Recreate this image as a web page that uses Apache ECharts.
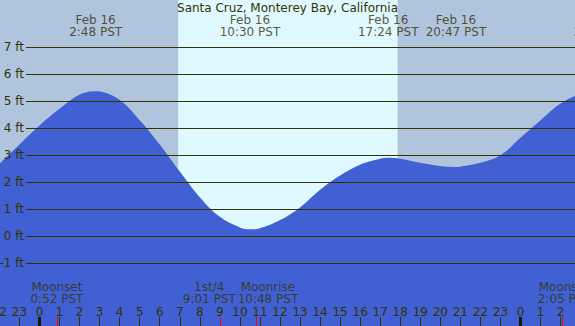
<!DOCTYPE html>
<html>
<head>
<meta charset="utf-8">
<script src="https://cdn.jsdelivr.net/npm/echarts@6/dist/echarts.min.js"></script>
<style>
  html, body { margin: 0; padding: 0; }
</style>
</head>
<body>
<div id="main" style="width: 575px;height:326px;"></div>
<script type="text/javascript">
    // tide height (ft), hours from Feb 16 00:00 PST
    var hours = [-2, -1, 0, 1, 2, 2.8, 3, 4, 5, 6, 7, 8, 9, 10, 10.5, 11, 12, 13, 14, 15, 16, 17, 17.4, 18, 19, 20, 20.78, 21, 22, 23, 24, 25, 26, 27];
    var heights = [2.68, 3.4, 4.1, 4.72, 5.24, 5.37, 5.36, 5.05, 4.3, 3.4, 2.4, 1.45, 0.72, 0.33, 0.26, 0.3, 0.6, 1.07, 1.72, 2.25, 2.65, 2.87, 2.91, 2.87, 2.72, 2.6, 2.57, 2.58, 2.72, 3.0, 3.65, 4.3, 4.92, 5.3];

    var tideTimes = [2.8, 10.5, 17.4, 20.78, 27.97];
    var tideLabels = ['Feb 16\n2:48 PST', 'Feb 16\n10:30 PST', 'Feb 16\n17:24 PST', 'Feb 16\n20:47 PST', 'Feb 17\n3:58 PST'];

    var sunrise = 6.92, sunset = 17.87;

    var moonTimes = [0.87, 9.02, 10.8, 26.08];
    var moonLabels = ['Moonset\n0:52 PST', '1st/4\n9:01 PST', 'Moonrise\n10:48 PST', 'Moonset\n2:05 PST'];
    var moonShift = [0, -11, 12, 2];

    var ftTicks = [-1, 0, 1, 2, 3, 4, 5, 6, 7];
    var hourTicks = [];
    for (var h = -2; h <= 26; h++) hourTicks.push(h);
    var dayTicks = [0, 24];

    var XMIN = -2, XMAX = 26.72, YMIN = -3.322, YMAX = 8.752;
    var ink = '#333300';
    var font = 'DejaVu Sans';

    function fullGrid() { return { left: -0.6, right: 0, top: 0, bottom: 0, outerBoundsMode: 'none', containLabel: false }; }
    function xAx(i, extra) {
        var a = { type: 'value', gridIndex: i, min: XMIN, max: XMAX, z: 10, axisLine: {show: false, onZero: false},
                  axisTick: {show: false}, axisLabel: {show: false}, splitLine: {show: false} };
        for (var k in extra) a[k] = extra[k];
        return a;
    }
    function yAx(i) {
        return { type: 'value', gridIndex: i, min: YMIN, max: YMAX, show: false, splitLine: {show: false} };
    }

    // svg renderer: the canvas one left a stray light seam in the day band
    var myChart = echarts.init(document.getElementById('main'), null, { renderer: 'svg' });
    var option = {
        animation: false,
        backgroundColor: '#b0c4de',
        textStyle: { fontFamily: font },
        title: {
            text: 'Santa Cruz, Monterey Bay, California',
            left: 'center', top: 1, padding: 0,
            textStyle: { fontSize: 12, lineHeight: 13, fontWeight: 'normal', color: ink, fontFamily: font }
        },
        grid: [fullGrid(), { left: 26, right: 0, top: 0, bottom: 0, outerBoundsMode: 'none', containLabel: false }, fullGrid(), fullGrid()],
        xAxis: [
            xAx(0, {
                axisTick: { show: true, inside: true, length: 9, customValues: hourTicks, lineStyle: { color: ink, width: 1 } },
                axisLabel: { show: true, inside: true, margin: 8, customValues: hourTicks, color: ink, fontSize: 12, lineHeight: 12,
                    fontFamily: font, hideOverlap: false,
                    formatter: function (v) { return ((Math.round(v) % 24) + 24) % 24; } }
            }),
            xAx(1, {}),
            xAx(2, { axisTick: { show: true, inside: true, length: 9, customValues: dayTicks, lineStyle: { color: '#1a1a00', width: 3 } } }),
            xAx(3, { axisTick: { show: true, inside: true, length: 9, customValues: moonTimes, lineStyle: { color: '#ff0000', width: 1 } } })
        ],
        yAxis: [
            yAx(0),
            {
                type: 'value', gridIndex: 1, min: YMIN, max: YMAX, z: 10,
                axisLine: { show: false, onZero: false },
                axisTick: { show: false, customValues: ftTicks },
                axisLabel: { customValues: ftTicks, margin: 2, color: ink, fontSize: 12, fontFamily: font,
                    formatter: '{value} ft' },
                splitLine: { show: true, lineStyle: { color: ink, width: 1 } }
            },
            yAx(2), yAx(3)
        ],
        series: [
            {
                type: 'line', xAxisIndex: 0, yAxisIndex: 0, z: 2,
                data: hours.map(function (h, i) { return [h, heights[i]]; }),
                smooth: 0.4, showSymbol: false, silent: true,
                lineStyle: { width: 0 },
                itemStyle: { color: '#4160d4' },
                areaStyle: { color: '#4160d4', origin: 'start', opacity: 1 }
            },
            {
                // daylight band behind the water
                type: 'line', xAxisIndex: 2, yAxisIndex: 2, z: 1, data: [], silent: true,
                markArea: {
                    silent: true, z: 1,
                    itemStyle: { color: '#e0f8ff', borderWidth: 0 },
                    data: [[{ xAxis: sunrise, yAxis: YMIN }, { xAxis: sunset, yAxis: YMAX }]]
                }
            },
            {
                type: 'scatter', xAxisIndex: 0, yAxisIndex: 0, clip: false, symbolSize: 0, silent: true, z: 6,
                data: tideTimes.map(function (t, i) { return { value: [t, YMAX], name: tideLabels[i] }; }),
                label: { show: true, position: 'bottom', distance: 13.5, color: ink, fontSize: 12, lineHeight: 12.3,
                    fontFamily: font, align: 'center', formatter: function (p) { return p.name; } }
            },
            {
                type: 'scatter', xAxisIndex: 0, yAxisIndex: 0, clip: false, symbolSize: 0, silent: true, z: 6,
                data: moonTimes.map(function (t, i) {
                    return { value: [t, YMIN], name: moonLabels[i], label: { offset: [moonShift[i], 0] } };
                }),
                label: { show: true, position: 'top', distance: 20.5, color: ink, fontSize: 12, lineHeight: 12.2,
                    fontFamily: font, align: 'center', formatter: function (p) { return p.name; } }
            }
        ]
    };
    myChart.setOption(option);
</script>
</body>
</html>
